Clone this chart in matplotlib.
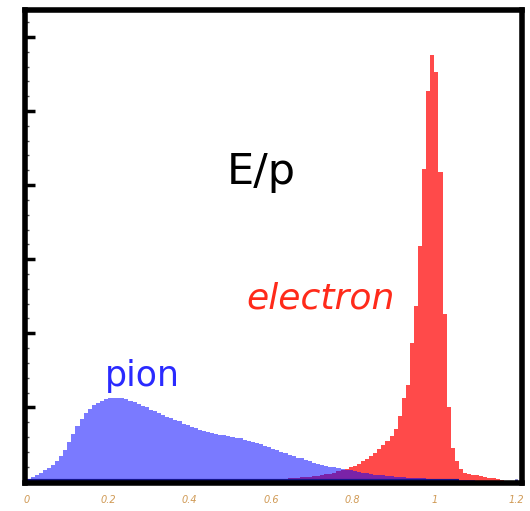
import numpy as np
import matplotlib
matplotlib.use("Agg")
import matplotlib.pyplot as plt
from matplotlib.ticker import MultipleLocator

# E/p histograms, 0.01 wide bins from 0 to 1.2 (arbitrary units, 1 = one major y tick)
bin_width = 0.01
n_bins = 120

pion = [
    0.03, 0.06, 0.09, 0.12, 0.15, 0.18, 0.22, 0.27, 0.34, 0.43,
    0.53, 0.64, 0.75, 0.84, 0.92, 0.98, 1.03, 1.06, 1.09, 1.11,
    1.12, 1.13, 1.13, 1.12, 1.11, 1.09, 1.07, 1.05, 1.02, 1.00,
    0.97, 0.95, 0.92, 0.90, 0.87, 0.85, 0.83, 0.81, 0.78, 0.76,
    0.74, 0.72, 0.70, 0.68, 0.67, 0.65, 0.64, 0.63, 0.62, 0.61,
    0.60, 0.59, 0.58, 0.56, 0.55, 0.53, 0.52, 0.50, 0.48, 0.46,
    0.44, 0.42, 0.40, 0.38, 0.36, 0.34, 0.32, 0.31, 0.29, 0.27,
    0.25, 0.24, 0.22, 0.21, 0.20, 0.19, 0.18, 0.17, 0.16, 0.15,
    0.14, 0.13, 0.12, 0.11, 0.10, 0.09, 0.085, 0.08, 0.075, 0.07,
    0.065, 0.06, 0.055, 0.05, 0.05, 0.045, 0.04, 0.04, 0.035, 0.035,
    0.03, 0.03, 0.025, 0.025, 0.02, 0.02, 0.02, 0.015, 0.015, 0.015,
    0.01, 0.01, 0.01, 0.01, 0.01, 0.005, 0.005, 0.005, 0.005, 0.005,
]

electron = [0.0] * 50 + [
    0.005, 0.006, 0.008, 0.01, 0.012, 0.014, 0.016, 0.018, 0.02, 0.022,
    0.025, 0.028, 0.032, 0.036, 0.04, 0.045, 0.05, 0.055, 0.06, 0.066,
    0.072, 0.078, 0.085, 0.095, 0.105, 0.12, 0.135, 0.15, 0.17, 0.19,
    0.21, 0.24, 0.27, 0.30, 0.34, 0.39, 0.44, 0.49, 0.55, 0.61,
    0.71, 0.88, 1.12, 1.30, 1.87, 2.37, 3.18, 4.22, 5.27, 5.75,
    5.52, 4.17, 2.26, 1.00, 0.45, 0.27, 0.17, 0.12, 0.10, 0.09,
    0.08, 0.07, 0.06, 0.05, 0.04, 0.03, 0.02, 0.01, 0.0, 0.0,
]

x_ticks = [0, 0.2, 0.4, 0.6, 0.8, 1.0, 1.2]
x_labels = ["0", "0.2", "0.4", "0.6", "0.8", "1", "1.2"]

edges = np.arange(n_bins + 1) * bin_width

fig = plt.figure(figsize=(5.30, 5.11), dpi=100)
ax = fig.add_axes([0.047, 0.055, 0.938, 0.925])

# electron first (opaque), pion on top half-transparent -> purple overlap
ax.stairs(electron, edges, fill=True, color="#ff4a4a", linewidth=0)
ax.stairs(pion, edges, fill=True, color="#0000ff", alpha=0.52, linewidth=0)
ax.hlines(0.0, 0.0, 1.06, color="#14148c", linewidth=3)

ax.set_xlim(-0.004, 1.215)
ax.set_ylim(-0.02, 6.36)

ax.set_xticks(x_ticks)
ax.set_xticklabels(x_labels, fontsize=7, style="italic", color="#d09a55")
ax.yaxis.set_major_locator(MultipleLocator(1))
ax.yaxis.set_minor_locator(MultipleLocator(0.2))
ax.set_yticklabels([])
ax.tick_params(axis="y", which="major", direction="in", length=7, width=2.5,
               color="black")
ax.tick_params(axis="y", which="minor", direction="in", length=3, width=1,
               color="#555555")
ax.tick_params(axis="x", which="major", direction="in", length=3, width=2,
               color="#14148c", pad=9)

for s in ax.spines.values():
    s.set_linewidth(4)
    s.set_color("black")

ax.text(0.575, 4.18, "E/p", fontsize=31, color="black",
        ha="center", va="center", family="DejaVu Sans")
ax.text(0.72, 2.47, "electron", fontsize=26, color="#ff2a1a", style="italic",
        ha="center", va="center", family="DejaVu Sans")
ax.text(0.283, 1.42, "pion", fontsize=25, color="#2a2aff",
        ha="center", va="center", family="DejaVu Sans")

fig.savefig("out.png", dpi=100)
